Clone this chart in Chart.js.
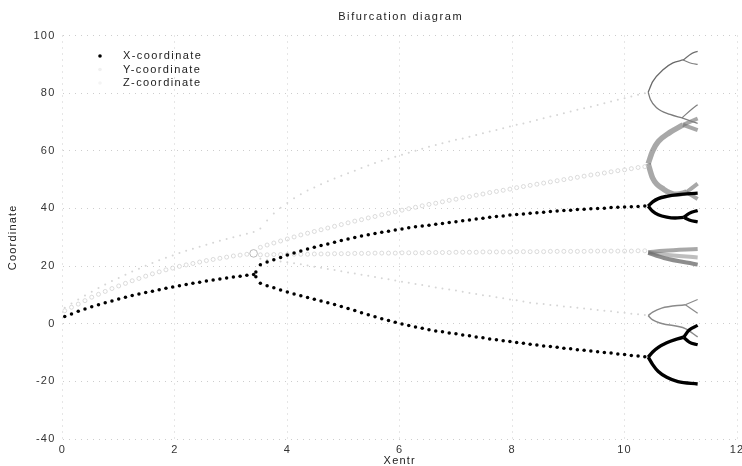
<!DOCTYPE html>
<html><head><meta charset="utf-8">
<script src="https://cdn.jsdelivr.net/npm/chart.js@4"></script>
<style>html,body{margin:0;padding:0;background:#fff;} #c{display:block;}</style>
</head><body>
<canvas id="c" width="742" height="466"></canvas>
<script>
// ---- parameter grids ----
const xStem = [0.04,0.16,0.28,0.40,0.52,0.64,0.76,0.88,1.00,1.12,
  1.24,1.36,1.48,1.60,1.72,1.84,1.96,2.08,2.20,2.32,
  2.44,2.56,2.68,2.80,2.92,3.04,3.16,3.28,3.40];
const xBranch = [3.52,3.64,3.76,3.88,4.00,4.12,4.24,4.36,4.48,4.60,
  4.72,4.84,4.96,5.08,5.20,5.32,5.44,5.56,5.68,5.80,
  5.92,6.04,6.16,6.28,6.40,6.52,6.64,6.76,6.88,7.00,
  7.12,7.24,7.36,7.48,7.60,7.72,7.84,7.96,8.08,8.20,
  8.32,8.44,8.56,8.68,8.80,8.92,9.04,9.16,9.28,9.40,
  9.52,9.64,9.76,9.88,10.00,10.12,10.24,10.36];

// ---- X-coordinate ----
const xStemValues = [2.5,3.4,4.3,5.1,5.9,6.6,7.3,7.9,8.6,9.2,
  9.8,10.3,10.8,11.3,11.8,12.3,12.7,13.2,13.6,14.0,
  14.4,14.8,15.2,15.5,15.9,16.2,16.5,16.8,17.1];
const xCuspX = [3.44,3.44];
const xCuspValues = [16.3,17.9];
const xUpperValues = [20.5,21.4,22.2,23.0,23.8,24.5,25.2,25.9,26.5,27.1,
  27.7,28.3,28.9,29.4,29.9,30.4,30.9,31.3,31.7,32.1,
  32.5,32.9,33.3,33.6,33.9,34.2,34.5,34.8,35.1,35.4,
  35.7,36.0,36.3,36.6,36.9,37.2,37.4,37.7,37.9,38.1,
  38.3,38.5,38.7,38.9,39.1,39.3,39.4,39.6,39.7,39.9,
  40.0,40.1,40.3,40.4,40.5,40.6,40.7,40.8];
const xLowerValues = [14.0,13.2,12.5,11.7,11.0,10.3,9.7,9.1,8.5,7.9,
  7.3,6.7,6.0,5.3,4.6,3.8,3.1,2.4,1.7,1.1,
  0.5,-0.1,-0.6,-1.1,-1.6,-2.1,-2.5,-2.8,-3.2,-3.5,
  -3.9,-4.2,-4.6,-4.9,-5.3,-5.6,-5.9,-6.2,-6.5,-6.8,
  -7.1,-7.4,-7.7,-7.9,-8.2,-8.5,-8.7,-9.0,-9.2,-9.5,
  -9.7,-10.0,-10.2,-10.5,-10.7,-11.0,-11.2,-11.5];
// period-2 / period-4 region (dense, drawn as curves)
const xP2UpHi = [[10.42,40.8],[10.5,42.3],[10.6,43.4],[10.75,44.2],[10.95,44.8],[11.3,45.3]];
const xP2UpLo = [[10.42,40.8],[10.5,39.0],[10.6,37.8],[10.75,37.0],[10.9,36.7],[11.05,36.9]];
const xP4UpA = [[11.05,36.9],[11.15,38.3],[11.3,39.3]];
const xP4UpB = [[11.05,36.9],[11.15,36.0],[11.3,35.3]];
const xP2LoHi = [[10.42,-11.6],[10.5,-9.8],[10.6,-8.2],[10.75,-6.6],[10.9,-5.5],[11.05,-4.7]];
const xP4LoA = [[11.05,-4.7],[11.15,-2.2],[11.3,-0.6]];
const xP4LoB = [[11.05,-4.7],[11.15,-6.4],[11.3,-7.3]];
const xP2LoLo = [[10.42,-11.6],[10.5,-14.2],[10.6,-16.6],[10.75,-18.6],[10.95,-20.1],[11.3,-20.9]];

// ---- Y-coordinate ----
const yStemValues = [4.5,5.7,6.8,8.0,9.2,10.2,11.2,12.2,13.1,14.0,
  14.9,15.7,16.5,17.3,18.0,18.7,19.3,19.9,20.4,20.9,
  21.4,21.9,22.3,22.7,23.1,23.5,23.8,24.1,24.4];
const yUpperValues = [26.5,27.3,28.0,28.7,29.4,30.1,30.8,31.4,32.0,32.6,
  33.2,33.8,34.4,35.0,35.6,36.1,36.7,37.2,37.8,38.3,
  38.8,39.4,39.9,40.4,40.9,41.4,41.8,42.3,42.8,43.2,
  43.7,44.1,44.6,45.0,45.5,45.9,46.3,46.7,47.2,47.6,
  48.0,48.4,48.8,49.2,49.6,50.0,50.4,50.8,51.2,51.6,
  51.9,52.3,52.7,53.1,53.4,53.8,54.2,54.5];
const yMiddleValues = [23.9,23.9,24.0,24.0,24.0,24.1,24.1,24.1,24.2,24.2,
  24.2,24.3,24.3,24.3,24.4,24.4,24.4,24.5,24.5,24.5,
  24.5,24.6,24.6,24.6,24.6,24.7,24.7,24.7,24.7,24.8,
  24.8,24.8,24.8,24.9,24.9,24.9,24.9,24.9,25.0,25.0,
  25.0,25.0,25.0,25.1,25.1,25.1,25.1,25.1,25.1,25.2,
  25.2,25.2,25.2,25.2,25.2,25.2,25.3,25.3];
const yP2UpHi = [[10.42,55.5],[10.5,60.0],[10.6,63.2],[10.8,66.3],[11.04,69.0]];
const yP4UpHiA = [[11.04,69.0],[11.3,71.2]];
const yP4UpHiB = [[11.04,69.0],[11.3,67.2]];
const yP2UpLo = [[10.42,55.5],[10.5,50.5],[10.7,46.6],[10.93,44.9],[11.1,45.6]];
const yP4UpLoA = [[11.1,45.6],[11.3,48.6]];
const yP4UpLoB = [[11.1,45.6],[11.3,43.3]];
const yP2MidHi = [[10.42,24.8],[10.7,25.3],[11.3,25.9]];
const yP2MidMid = [[10.42,24.7],[10.7,24.0],[11.3,23.0]];
const yP2MidLo = [[10.42,24.6],[10.7,22.8],[11.3,20.5]];

// ---- Z-coordinate ----
const zStemValues = [5.5,7.0,8.4,9.8,11.1,12.4,13.6,14.8,15.9,17.0,
  18.1,19.1,20.1,21.1,22.0,22.9,23.7,24.5,25.3,26.0,
  26.7,27.4,28.1,28.8,29.4,30.0,30.6,31.2,31.8];
const zUpperValues = [33.0,35.8,38.2,40.2,41.9,43.5,44.9,46.2,47.3,48.4,
  49.4,50.4,51.3,52.2,53.1,54.0,54.9,55.8,56.5,57.2,
  57.9,58.6,59.3,60.0,60.7,61.4,62.0,62.6,63.2,63.8,
  64.3,64.9,65.5,66.1,66.7,67.2,67.8,68.4,69.0,69.5,
  70.1,70.7,71.3,71.9,72.4,73.0,73.6,74.2,74.8,75.3,
  75.9,76.5,77.1,77.7,78.2,78.8,79.4,80.0];
const zLowerValues = [22.5,22.2,21.9,21.6,21.3,21.0,20.6,20.2,19.8,19.4,
  19.0,18.6,18.2,17.8,17.4,17.0,16.6,16.2,15.8,15.4,
  15.0,14.6,14.2,13.8,13.4,13.0,12.6,12.2,11.9,11.5,
  11.1,10.7,10.3,9.9,9.6,9.2,8.8,8.4,8.1,7.7,
  7.3,7.0,6.8,6.5,6.3,6.0,5.8,5.5,5.3,5.0,
  4.8,4.5,4.3,4.0,3.8,3.5,3.3,3.0];
const zP2UpHi = [[10.42,80.3],[10.5,84.0],[10.69,88.2],[10.86,90.5],[11.04,91.5]];
const zP4UpHiA = [[11.04,91.5],[11.2,93.8],[11.3,94.5]];
const zP4UpHiB = [[11.04,91.5],[11.2,90.3],[11.3,90.0]];
const zP2UpLo = [[10.42,80.3],[10.46,77.8],[10.57,74.9],[10.81,72.6],[11.02,71.4]];
const zP4UpLoA = [[11.02,71.4],[11.2,74.5],[11.3,76.0]];
const zP4UpLoB = [[11.02,71.4],[11.3,69.5]];
const zP2LoHi = [[10.42,2.8],[10.5,4.0],[10.66,5.4],[11.08,6.6]];
const zP4LoHiA = [[11.08,6.6],[11.3,8.4]];
const zP4LoHiB = [[11.08,6.6],[11.3,3.6]];
const zP2LoLo = [[10.42,2.8],[10.5,1.3],[10.66,0.1],[11.08,-1.7],[11.3,-4.6]];

// ---- axes ----
const xTicks = [0,2,4,6,8,10,12];
const yTicks = [-40,-20,0,20,40,60,80,100];
const seriesNames = ['X-coordinate','Y-coordinate','Z-coordinate'];
const chartTitle = 'Bifurcation diagram';

const FONT = "'Liberation Sans', Arial, sans-serif";
const SPACING = '1.2px';
const pts = (xs, ys) => xs.map((x, i) => ({x: x, y: ys[i]}));
const crv = p => p.map(([x, y]) => ({x: x, y: y}));

function curveSet(p, color, width, order) {
  return {data: crv(p), showLine: true, borderColor: color, borderWidth: width,
    pointRadius: 0, cubicInterpolationMode: 'monotone', order: order, legendHide: true};
}

const BAND = 'rgba(110,110,110,0.6)';
const datasets = [
  {label: seriesNames[0], order: 0,
   data: pts(xStem, xStemValues).concat(pts(xCuspX, xCuspValues), pts(xBranch, xUpperValues), pts(xBranch, xLowerValues)),
   pointRadius: 1.75, pointBackgroundColor: '#000', pointBorderWidth: 0, markerColor: '#000'},
  {label: seriesNames[1], order: 2,
   data: pts(xStem, yStemValues).concat(pts(xBranch, yUpperValues), pts(xBranch, yMiddleValues)),
   pointRadius: ctx => (ctx.dataIndex === xStem.length - 1 ? 3.8 : 2.0),
   pointBackgroundColor: 'rgba(0,0,0,0)', pointBorderColor: ctx => (ctx.dataIndex === xStem.length - 1 ? '#aaa' : '#d2d2d2'),
   pointBorderWidth: 0.8, markerColor: '#f0f0f0'},
  {label: seriesNames[2], order: 1,
   data: pts(xStem, zStemValues).concat(pts(xBranch, zUpperValues), pts(xBranch, zLowerValues)),
   pointRadius: 1.0, pointBackgroundColor: '#d6d6d6', pointBorderWidth: 0, markerColor: '#f4f4f4'},
  // X dense region
  curveSet(xP2UpHi, '#000', 3.4, 0), curveSet(xP2UpLo, '#000', 3.4, 0),
  curveSet(xP4UpA, '#000', 3.2, 0), curveSet(xP4UpB, '#000', 3.2, 0),
  curveSet(xP2LoHi, '#000', 3.4, 0), curveSet(xP4LoA, '#000', 3.2, 0),
  curveSet(xP4LoB, '#000', 3.2, 0), curveSet(xP2LoLo, '#000', 3.4, 0),
  // Y dense region
  curveSet(yP2UpHi, BAND, 5.5, 2), curveSet(yP4UpHiA, BAND, 4, 2),
  curveSet(yP4UpHiB, BAND, 4, 2), curveSet(yP2UpLo, BAND, 5.5, 2),
  curveSet(yP4UpLoA, BAND, 4, 2), curveSet(yP4UpLoB, BAND, 4, 2),
  curveSet(yP2MidHi, BAND, 4, 2), curveSet(yP2MidMid, 'rgba(110,110,110,0.45)', 4, 2),
  curveSet(yP2MidLo, 'rgba(80,80,80,0.65)', 4, 2),
  // Z dense region
  curveSet(zP2UpHi, '#6a6a6a', 1.3, 1), curveSet(zP4UpHiA, '#707070', 1.2, 1), curveSet(zP4UpHiB, '#808080', 1.2, 1),
  curveSet(zP2UpLo, '#7a7a7a', 1.3, 1), curveSet(zP4UpLoA, '#808080', 1.2, 1), curveSet(zP4UpLoB, '#808080', 1.2, 1),
  curveSet(zP2LoHi, '#8a8a8a', 1.5, 1), curveSet(zP4LoHiA, '#8a8a8a', 1.2, 1), curveSet(zP4LoHiB, '#8a8a8a', 1.2, 1),
  curveSet(zP2LoLo, '#8a8a8a', 1.5, 1)
];

const spacingPlugin = {
  id: 'spacing',
  beforeUpdate(chart) { chart.ctx.letterSpacing = SPACING; },
  beforeDraw(chart) { chart.ctx.letterSpacing = SPACING; }
};

const textPlugin = {
  id: 'innerLegendAndTitle',
  afterDraw(chart) {
    const ctx = chart.ctx, a = chart.chartArea;
    ctx.save();
    // title, centred on the plot area
    ctx.letterSpacing = '1.6px';
    ctx.font = '11px ' + FONT;
    ctx.fillStyle = '#222';
    ctx.textAlign = 'center';
    ctx.textBaseline = 'middle';
    ctx.fillText(chartTitle, (a.left + a.right) / 2 + 1, a.top - 18.5);
    // legend inside plot area
    ctx.letterSpacing = '1.4px';
    ctx.textAlign = 'left';
    chart.data.datasets.filter(d => !d.legendHide).forEach((d, i) => {
      const y = a.top + 20.5 + i * 13.5;
      ctx.fillStyle = d.markerColor;
      ctx.beginPath(); ctx.arc(a.left + 37.5, y, 1.8, 0, Math.PI * 2); ctx.fill();
      ctx.fillStyle = '#222';
      ctx.fillText(d.label, a.left + 60.5, y);
    });
    ctx.restore();
  }
};

const GRID = {color: '#cdcdcd', lineWidth: 1, drawTicks: false};
const BORDER = {display: false, dash: [1, 5]};

new Chart(document.getElementById('c'), {
  type: 'scatter',
  data: {datasets: datasets},
  plugins: [spacingPlugin, textPlugin],
  options: {
    responsive: false,
    animation: false,
    layout: {padding: {left: 0, right: 5, top: 35.5, bottom: 0}},
    plugins: {
      legend: {display: false},
      tooltip: {enabled: false},
      title: {display: false}
    },
    scales: {
      x: {
        type: 'linear', min: 0, max: 12,
        afterBuildTicks: s => { s.ticks = xTicks.map(v => ({value: v})); },
        afterFit: s => { s.height = 27; s.paddingLeft = 0; s.paddingRight = 0; },
        ticks: {color: '#333', padding: 4, maxRotation: 0, autoSkip: false,
          font: {family: FONT, size: 11}},
        grid: GRID,
        border: BORDER,
        title: {display: true, text: 'Xentr', color: '#222',
          font: {family: FONT, size: 11, lineHeight: 1}, padding: {top: 0, bottom: 0}}
      },
      y: {
        type: 'linear', min: -40, max: 100,
        afterBuildTicks: s => { s.ticks = yTicks.map(v => ({value: v})); },
        afterFit: s => { s.width = 62.5; s.paddingTop = 0; s.paddingBottom = 0; },
        ticks: {color: '#333', padding: 7, autoSkip: false,
          font: {family: FONT, size: 11}},
        grid: GRID,
        border: BORDER,
        title: {display: true, text: 'Coordinate', color: '#222',
          font: {family: FONT, size: 11, lineHeight: 1}, padding: {top: 7.5, bottom: 0}}
      }
    }
  }
});
</script>
</body></html>
